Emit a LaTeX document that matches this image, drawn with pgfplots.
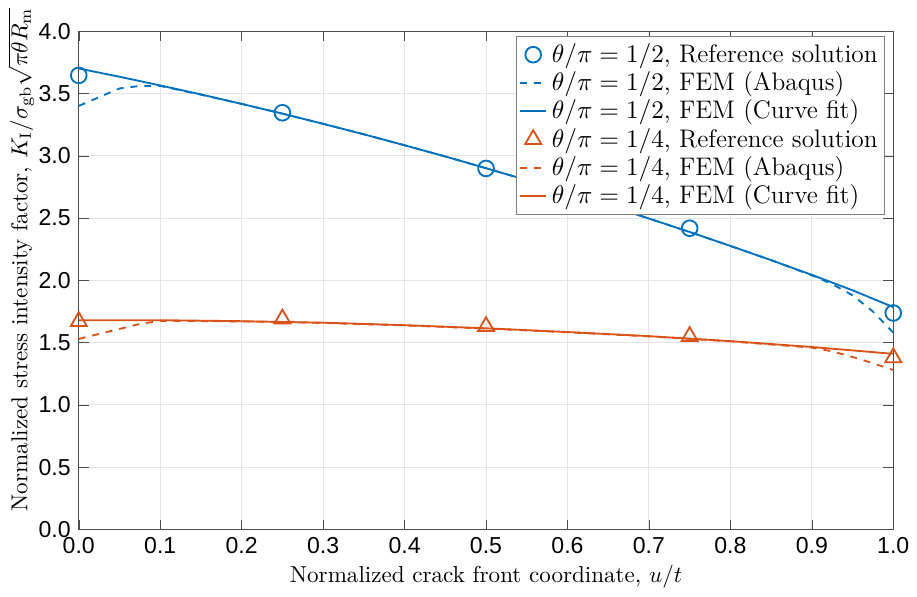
\documentclass[border=0pt]{standalone}
\usepackage{pgfplots}
\pgfplotsset{compat=1.18}
\usepackage{fontspec}
\newfontfamily\ticksfont{Liberation Sans}
\definecolor{mblue}{rgb}{0,0.447,0.741}
\definecolor{mred}{rgb}{0.851,0.325,0.098}

\begin{document}
\begin{tikzpicture}
\begin{axis}[
  scale only axis,
  width=353pt, height=216pt,
  xmin=0, xmax=1, ymin=0, ymax=4,
  xtick={0,0.1,...,1.0}, ytick={0,0.5,...,4.0},
  xticklabel style={/pgf/number format/.cd,fixed,fixed zerofill,precision=1},
  yticklabel style={/pgf/number format/.cd,fixed,fixed zerofill,precision=1},
  /pgf/number format/assume math mode=true,
  tick label style={font=\ticksfont},
  axis line style={black!70},
  tick style={black!70},
  grid=major,
  major grid style={black!10},
  xlabel={Normalized crack front coordinate, $u/t$},
  ylabel={Normalized stress intensity factor, $K_\mathrm{I}/\sigma_\mathrm{gb}\sqrt{\pi\theta R_\mathrm{m}}$},
  xlabel style={yshift=2pt},
  ylabel style={yshift=-5pt, xshift=9pt},
  legend style={at={(0.99,0.99)}, anchor=north east, draw=black!50,
    inner sep=1pt, row sep=-1.5pt, font=\fontsize{11}{13}\selectfont},
  legend cell align=left,
  legend image code/.code={\draw[mark repeat=2,mark phase=2]
    plot coordinates {(0cm,0cm) (0.2cm,0cm) (0.4cm,0cm)};},
]
\addplot[mblue, only marks, mark=o, mark size=3.4pt, thick]
  coordinates {(0,3.645) (0.25,3.345) (0.5,2.898) (0.75,2.418) (1.0,1.738)};
\addlegendentry{$\theta/\pi=1/2$, Reference solution}
\addplot[mblue, thick, dashed] coordinates {
  (0,3.40) (0.025,3.47) (0.05,3.54) (0.075,3.56) (0.1,3.56) (0.15,3.49)
  (0.2,3.416) (0.25,3.338) (0.3,3.256) (0.35,3.172) (0.4,3.084) (0.45,2.994)
  (0.5,2.900) (0.55,2.804) (0.6,2.704) (0.65,2.602) (0.7,2.496) (0.75,2.388)
  (0.8,2.276) (0.85,2.162) (0.9,2.040) (0.925,1.97) (0.95,1.88) (0.975,1.75) (1.0,1.58)};
\addlegendentry{$\theta/\pi=1/2$, FEM (Abaqus)}
\addplot[mblue, thick] coordinates {
  (0,3.700) (0.05,3.634) (0.1,3.564) (0.15,3.492) (0.2,3.416) (0.25,3.338)
  (0.3,3.256) (0.35,3.172) (0.4,3.084) (0.45,2.994) (0.5,2.900) (0.55,2.804)
  (0.6,2.704) (0.65,2.602) (0.7,2.496) (0.75,2.388) (0.8,2.276) (0.85,2.162)
  (0.9,2.044) (0.95,1.920) (1.0,1.785)};
\addlegendentry{$\theta/\pi=1/2$, FEM (Curve fit)}
\addplot[mred, only marks, mark=triangle, mark size=4pt, thick]
  coordinates {(0,1.67) (0.25,1.69) (0.5,1.63) (0.75,1.55) (1.0,1.38)};
\addlegendentry{$\theta/\pi=1/4$, Reference solution}
\addplot[mred, thick, dashed] coordinates {
  (0,1.53) (0.025,1.57) (0.05,1.61) (0.075,1.65) (0.1,1.675) (0.2,1.670)
  (0.3,1.658) (0.4,1.638) (0.5,1.613) (0.6,1.583) (0.7,1.550) (0.8,1.510)
  (0.9,1.460) (0.925,1.43) (0.95,1.385) (0.975,1.335) (1.0,1.28)};
\addlegendentry{$\theta/\pi=1/4$, FEM (Abaqus)}
\addplot[mred, thick] coordinates {
  (0,1.680) (0.1,1.680) (0.2,1.672) (0.3,1.660) (0.4,1.640) (0.5,1.615)
  (0.6,1.585) (0.7,1.552) (0.8,1.512) (0.9,1.465) (1.0,1.410)};
\addlegendentry{$\theta/\pi=1/4$, FEM (Curve fit)}
\end{axis}
\end{tikzpicture}
\end{document}
